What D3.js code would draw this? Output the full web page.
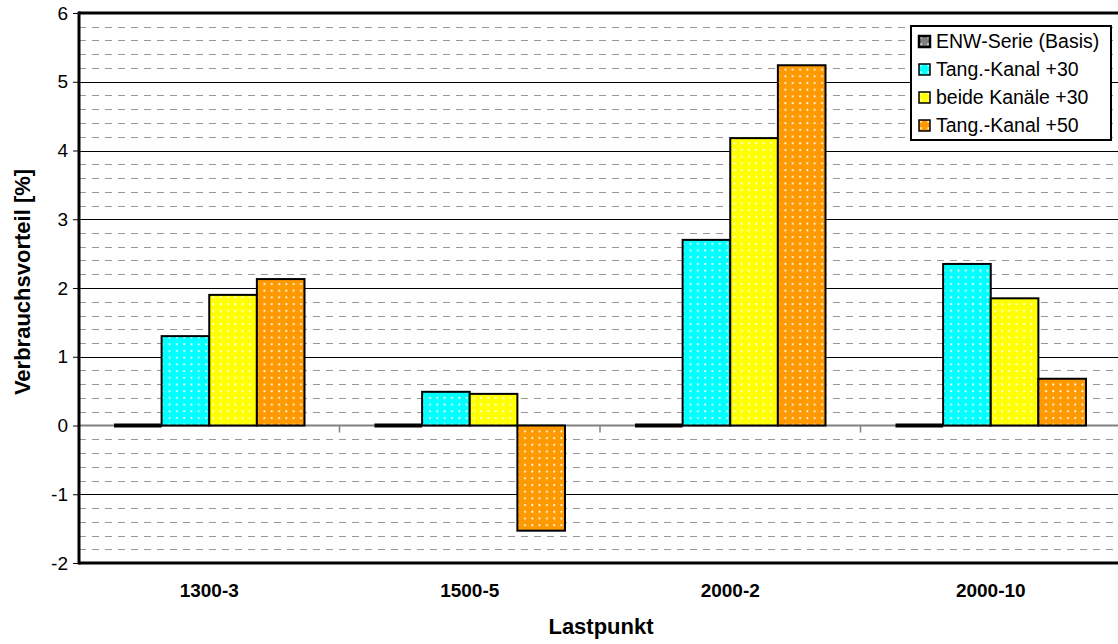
<!DOCTYPE html>
<html>
<head>
<meta charset="utf-8">
<script src="https://cdn.jsdelivr.net/npm/d3@7"></script>
<style>
  body { margin: 0; background: #fff; }
  text { font-family: "Liberation Sans", Arial, sans-serif; }
</style>
</head>
<body>
<div id="chart"></div>
<script>
const categories = ['1300-3', '1500-5', '2000-2', '2000-10'];
const seriesNames = ['ENW-Serie (Basis)', 'Tang.-Kanal +30', 'beide Kanäle +30', 'Tang.-Kanal +50'];
const basis = [0, 0, 0, 0];
const tang30 = [1.30, 0.49, 2.70, 2.35];
const beide30 = [1.90, 0.46, 4.18, 1.85];
const tang50 = [2.13, -1.53, 5.24, 0.68];
const yTicks = [-2, -1, 0, 1, 2, 3, 4, 5, 6];

const colors = ['#808080', '#00ffff', '#ffff00', '#ff9900'];
const seriesValues = [basis, tang30, beide30, tang50];

const W = 1118, H = 644;
const margin = { top: 13, right: -3, bottom: 81, left: 79 };
const width = W - margin.left - margin.right;
const height = H - margin.top - margin.bottom;

const svg = d3.select('#chart').append('svg')
  .attr('width', W).attr('height', H);

// dotted fill like the original chart
const defs = svg.append('defs');
colors.forEach((c, i) => {
  const p = defs.append('pattern')
    .attr('id', `pat${i}`)
    .attr('patternUnits', 'userSpaceOnUse')
    .attr('width', 7.3).attr('height', 6.7);
  p.append('rect').attr('width', 7.3).attr('height', 6.7).attr('fill', c);
  p.append('circle').attr('cx', 3).attr('cy', 3).attr('r', 1)
    .attr('fill', '#fff');
});

const g = svg.append('g').attr('transform', `translate(${margin.left},${margin.top})`);

const x0 = d3.scaleBand().domain(categories).range([0, width]);
const x1 = d3.scaleBand().domain(d3.range(4)).range([35, x0.bandwidth() - 35]);
const y = d3.scaleLinear().domain([-2, 6]).range([height, 0]);

// minor dashed gridlines
const minor = d3.range(-2, 6.001, 0.2).filter(v => Math.abs(v - Math.round(v)) > 0.01);
g.append('g').selectAll('line').data(minor).join('line')
  .attr('x1', 0).attr('x2', width)
  .attr('y1', d => Math.round(y(d)) + 0.5).attr('y2', d => Math.round(y(d)) + 0.5)
  .attr('stroke', '#999').attr('stroke-dasharray', '7,6');

// major gridlines
g.append('g').selectAll('line').data(yTicks.filter(d => d !== 0)).join('line')
  .attr('x1', 0).attr('x2', width)
  .attr('y1', d => Math.round(y(d)) + 0.5).attr('y2', d => Math.round(y(d)) + 0.5)
  .attr('stroke', '#000').attr('stroke-width', 1);

// zero axis line with category ticks
g.append('line')
  .attr('x1', 0).attr('x2', width)
  .attr('y1', y(0)).attr('y2', y(0))
  .attr('stroke', '#808080').attr('stroke-width', 2);
g.append('g').selectAll('line').data(categories.slice(1)).join('line')
  .attr('x1', d => x0(d)).attr('x2', d => x0(d))
  .attr('y1', y(0)).attr('y2', y(0) + 7)
  .attr('stroke', '#808080').attr('stroke-width', 1.5);

// bars
const groups = g.append('g').selectAll('g').data(categories).join('g')
  .attr('transform', d => `translate(${x0(d)},0)`);

groups.selectAll('rect')
  .data((d, ci) => seriesValues.map((vals, si) => ({ si, v: vals[ci] })))
  .join('rect')
  .attr('x', d => x1(d.si))
  .attr('width', x1.bandwidth())
  .attr('y', d => d.v === 0 ? y(0) - 2 : y(Math.max(0, d.v)))
  .attr('height', d => d.v === 0 ? 4 : Math.abs(y(d.v) - y(0)))
  .attr('fill', d => d.v === 0 ? '#000' : `url(#pat${d.si})`)
  .attr('stroke', '#000')
  .attr('stroke-width', d => d.v === 0 ? 0 : 2);

// y axis
const yAxis = g.append('g')
  .call(d3.axisLeft(y).tickValues(yTicks).tickSize(6).tickPadding(5).tickFormat(d3.format('d')));
yAxis.select('.domain').remove();
yAxis.selectAll('line').attr('stroke', '#000');
yAxis.selectAll('text').attr('font-size', 19).attr('fill', '#000')
  .text(d => String(d));

// frame: left, top, bottom
g.append('line').attr('x1', 0).attr('x2', 0).attr('y1', -1.5).attr('y2', height + 1.5)
  .attr('stroke', '#000').attr('stroke-width', 3);
g.append('line').attr('x1', 0).attr('x2', width).attr('y1', 0).attr('y2', 0)
  .attr('stroke', '#000').attr('stroke-width', 3);
g.append('line').attr('x1', 0).attr('x2', width).attr('y1', height).attr('y2', height)
  .attr('stroke', '#000').attr('stroke-width', 3);

// category labels
g.append('g').selectAll('text').data(categories).join('text')
  .attr('x', d => x0(d) + x0.bandwidth() / 2)
  .attr('y', height + 34)
  .attr('text-anchor', 'middle')
  .attr('font-size', 19).attr('font-weight', 'bold')
  .text(d => d);

// axis titles
svg.append('text')
  .attr('x', 601).attr('y', 634)
  .attr('text-anchor', 'middle')
  .attr('font-size', 22).attr('font-weight', 'bold')
  .text('Lastpunkt');
svg.append('text')
  .attr('transform', 'translate(30,282) rotate(-90)')
  .attr('text-anchor', 'middle')
  .attr('font-size', 22).attr('font-weight', 'bold')
  .text('Verbrauchsvorteil [%]');

// legend
const legend = svg.append('g').attr('transform', 'translate(911,26)');
legend.append('rect')
  .attr('width', 200).attr('height', 114)
  .attr('fill', '#fff').attr('stroke', '#000').attr('stroke-width', 2);
const items = legend.selectAll('g.item').data(seriesNames).join('g')
  .attr('class', 'item')
  .attr('transform', (d, i) => `translate(7,${22 + i * 28})`);
items.append('rect')
  .attr('x', 1).attr('y', -12).attr('width', 11).attr('height', 11)
  .attr('fill', (d, i) => `url(#pat${i})`)
  .attr('stroke', '#000').attr('stroke-width', (d, i) => i === 0 ? 2.5 : 1.5);
items.append('text')
  .attr('x', 18).attr('y', 0)
  .attr('font-size', 19.5)
  .text(d => d);
</script>
</body>
</html>
